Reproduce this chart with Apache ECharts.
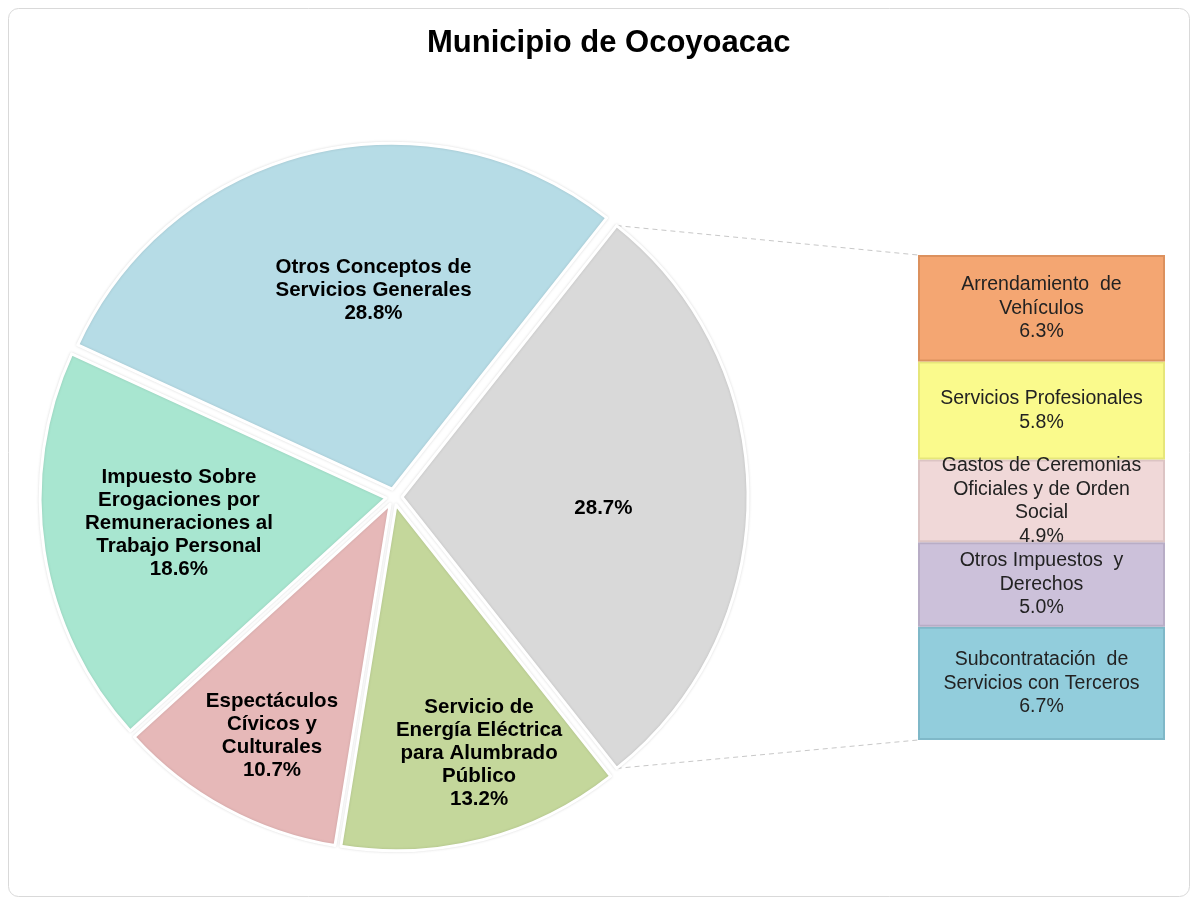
<!DOCTYPE html>
<html>
<head>
<meta charset="utf-8">
<script src="https://cdn.jsdelivr.net/npm/echarts@6/dist/echarts.min.js"></script>
<style>
html,body{margin:0;padding:0;background:#fff;}
#chart{width:1196px;height:902px;}
</style>
</head>
<body>
<div id="chart"></div>
<script>
// ---- data ----
var title = 'Municipio de Ocoyoacac';
var pieNames = [
  'Otros',
  'Servicio de\nEnergía Eléctrica\npara Alumbrado\nPúblico',
  'Espectáculos\nCívicos y\nCulturales',
  'Impuesto Sobre\nErogaciones por\nRemuneraciones al\nTrabajo Personal',
  'Otros Conceptos de\nServicios Generales'
];
var pieValues = [28.7, 13.2, 10.7, 18.6, 28.8];
var barNames = [
  'Subcontratación  de\nServicios con Terceros',
  'Otros Impuestos  y\nDerechos',
  'Gastos de Ceremonias\nOficiales y de Orden\nSocial',
  'Servicios Profesionales',
  'Arrendamiento  de\nVehículos'
];
var barValues = [6.7, 5.0, 4.9, 5.8, 6.3];

// ---- styles ----
var pieColors = ['#d9d9d9', '#c4d79b', '#e6b8b8', '#a8e6d0', '#b6dce6'];
var barColors = ['#92cddc', '#ccc1da', '#f0d8d8', '#fafa8c', '#f4a672'];
var barBorders = ['#7fb8c8', '#b8adc6', '#dcc4c4', '#e6e67a', '#dc915e'];
var labelRatio = [0.56, 0.735, 0.73, 0.58, 0.555];
var labelAngleShift = [-3.5, 4, 1.5, -2, -8.5];
var center = [394, 497], radius = 346, startAngle = 51.66, explode = 8;
var barLeft = 918, barTop = 255, barW = 247, barH = 485;
var FONT = 'Liberation Sans, Arial, sans-serif';

var chart = echarts.init(document.getElementById('chart'));

var total = pieValues.reduce(function(a, b){ return a + b; }, 0);
var barTotal = barValues.reduce(function(a, b){ return a + b; }, 0);
var mids = [];
(function(){
  var a = startAngle;
  pieValues.forEach(function(v){
    var span = v / total * 360;
    mids.push(a - span / 2);
    a -= span;
  });
})();

var pieData = pieValues.map(function(v, i){
  var item = {
    value: v,
    name: pieNames[i],
    selected: true,
    itemStyle: { color: pieColors[i] }
  };
  if (i === 0) {
    item.label = { formatter: function(p){ return p.value.toFixed(1) + '%'; } };
  }
  return item;
});

var barSeries = barValues.map(function(v, i){
  return {
    type: 'bar', stack: 'b', barWidth: '100%',
    data: [v],
    itemStyle: { color: barColors[i], borderColor: barBorders[i], borderWidth: 2 },
    label: {
      show: true, position: 'inside',
      formatter: barNames[i] + '\n' + v.toFixed(1) + '%',
      color: '#222', fontSize: 19.5, lineHeight: 23.5,
      fontFamily: FONT
    },
    silent: true
  };
});

function rad(d){ return d * Math.PI / 180; }
var a0 = startAngle, a1 = startAngle - pieValues[0] / total * 360;
var g0 = [center[0] + explode + radius * Math.cos(rad(a0)), center[1] - radius * Math.sin(rad(a0))];
var g1 = [center[0] + explode + radius * Math.cos(rad(a1)), center[1] - radius * Math.sin(rad(a1))];

var option = {
  animation: false,
  backgroundColor: '#fff',
  title: {
    text: title, left: 422, top: 23,
    textStyle: { fontFamily: FONT, fontSize: 31, fontWeight: 'bold', color: '#000' }
  },
  graphic: [
    { type: 'rect', shape: { x: 8.5, y: 8.5, width: 1181, height: 888, r: 10 },
      style: { fill: 'none', stroke: '#d9d9d9', lineWidth: 1 }, z: -1 },
    { type: 'line', shape: { x1: g0[0], y1: g0[1], x2: barLeft, y2: barTop },
      style: { stroke: '#c8c8c8', lineWidth: 1, lineDash: [5, 4] } },
    { type: 'line', shape: { x1: g1[0], y1: g1[1], x2: barLeft, y2: barTop + barH },
      style: { stroke: '#c8c8c8', lineWidth: 1, lineDash: [5, 4] } }
  ],
  grid: { left: barLeft, top: barTop, width: barW, height: barH },
  xAxis: { type: 'category', data: [''], show: false },
  yAxis: { type: 'value', min: 0, max: barTotal, show: false },
  series: [{
    type: 'pie',
    center: center, radius: radius,
    startAngle: startAngle, clockwise: true,
    selectedMode: 'multiple', selectedOffset: explode,
    silent: true,
    data: pieData,
    itemStyle: { borderColor: '#ffffff', borderWidth: 3, shadowBlur: 3, shadowColor: 'rgba(0,0,0,0.12)' },
    label: {
      show: true, position: 'inside',
      formatter: function(p){ return p.name + '\n' + p.value.toFixed(1) + '%'; },
      color: '#000', fontSize: 20.5, fontWeight: 'bold', lineHeight: 23,
      fontFamily: FONT
    },
    labelLine: { show: false },
    labelLayout: function(p){
      var i = p.dataIndex;
      var a = rad(mids[i] + labelAngleShift[i]);
      var r = radius * labelRatio[i];
      var cx = center[0] + explode * Math.cos(rad(mids[i])) + r * Math.cos(a);
      var cy = center[1] - explode * Math.sin(rad(mids[i])) - r * Math.sin(a);
      var lr = p.labelRect;
      return { dx: cx - (lr.x + lr.width / 2), dy: cy - (lr.y + lr.height / 2) };
    }
  }].concat(barSeries)
};
chart.setOption(option);
</script>
</body>
</html>
